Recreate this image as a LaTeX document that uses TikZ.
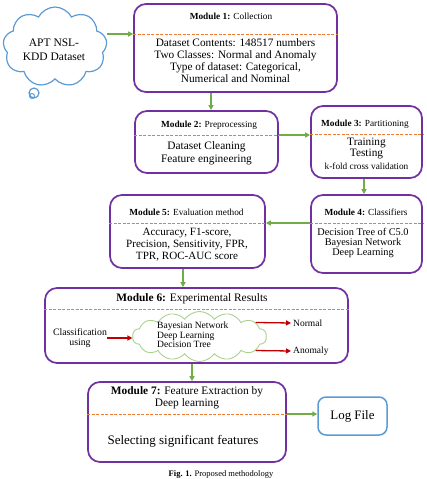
\documentclass[tikz,border=0pt]{standalone}
\usepackage{fontspec}
\setmainfont{Liberation Serif}
\usetikzlibrary{shapes.symbols,arrows.meta,calc}
\definecolor{purp}{HTML}{7030A0}
\definecolor{orng}{HTML}{ED7D31}
\definecolor{grn}{HTML}{70AD47}
\definecolor{blu}{HTML}{5B9BD5}
\definecolor{redd}{HTML}{C00000}
\definecolor{lgrn}{HTML}{A9D18E}
\tikzset{
  modbox/.style={draw=purp, line width=1.7pt, rounded corners=12pt, inner sep=0pt},
  sepline/.style={draw=orng, line width=0.9pt, dash pattern=on 3pt off 1.5pt},
  garrow/.style={draw=grn, line width=1.3pt, -{Triangle[length=5pt,width=5pt]}},
  rarrow/.style={draw=redd, line width=1.3pt, -{Triangle[length=5pt,width=5pt]}},
  ttl/.style={inner sep=0pt, font=\fontsize{9.3}{11}\selectfont},
  bodytxt/.style={inner sep=0pt, align=center},
  puff/.style={cloud, cloud ignores aspect, inner sep=0pt},
}
\begin{document}
\begin{tikzpicture}[x=1pt,y=-1pt]
\useasboundingbox (0,0) rectangle (426,479);

% cloud dataset
\node[puff, cloud puffs=9, cloud puff arc=125, draw=blu, line width=1.2pt, minimum width=104pt, minimum height=80pt] (cl) at (55,47) {};
\node[bodytxt, font=\fontsize{11.5}{14}\selectfont] (clt) at (54,50) {APT NSL-\\KDD Dataset};
\draw[blu, line width=1.2pt] (34,93) circle (5pt);
\draw[blu, line width=1pt] (32,96) circle (2.5pt);

% module boxes
\node[modbox, minimum width=203pt, minimum height=88pt] (m1) at (235.5,48) {};
\node[modbox, minimum width=143pt, minimum height=62pt] (m2) at (206.5,142) {};
\node[modbox, minimum width=111pt, minimum height=72pt] (m3) at (366.5,142) {};
\node[modbox, minimum width=111pt, minimum height=78pt] (m4) at (366.5,234) {};
\node[modbox, minimum width=155pt, minimum height=73pt] (m5) at (187.5,231.5) {};
\node[modbox, minimum width=303pt, minimum height=75pt] (m6) at (196.5,325.5) {};
\node[modbox, minimum width=198pt, minimum height=80pt] (m7) at (187,422) {};
\node[draw=blu, line width=1.5pt, rounded corners=8pt, minimum width=69pt, minimum height=38pt, inner sep=0pt,
      font=\fontsize{12.9}{14}\selectfont] (log) at (352.5,416) {Log File};

% separator coordinates
\coordinate (d1) at (0,34);
\coordinate (d2) at (0,135);
\coordinate (d3) at (0,134);
\coordinate (d4) at (0,223);
\coordinate (d6) at (0,309);
\coordinate (d7) at (0,414);
\draw[sepline] (m1.west |- d1) -- (m1.east |- d1);
\draw[sepline] (m2.west |- d2) -- (m2.east |- d2);
\draw[sepline] (m3.west |- d3) -- (m3.east |- d3);
\draw[sepline] (m4.west |- d4) -- (m4.east |- d4);
\draw[sepline] (m5.west |- d4) -- (m5.east |- d4);
\draw[sepline] (m6.west |- d6) -- (m6.east |- d6);
\draw[sepline] (m7.west |- d7) -- (m7.east |- d7);

% titles
\node[ttl] (t1) at (231,16) {\textbf{Module 1:} Collection};
\node[ttl] (t2) at (209,125) {\textbf{Module 2:} Preprocessing};
\node[ttl] (t3) at (365,124) {\textbf{Module 3:} Partitioning};
\node[ttl] (t4) at (366,212) {\textbf{Module 4:} Classifiers};
\node[ttl] (t5) at (186.5,212) {\textbf{Module 5:} Evaluation method};
\node[ttl, font=\fontsize{11.4}{13}\selectfont] (t6) at (192,299) {\textbf{Module 6:} Experimental Results};
\node[bodytxt, font=\fontsize{11.4}{12}\selectfont] (t7) at (187,398) {\textbf{Module 7:} Feature Extraction by\\Deep learning};

% bodies
\node[bodytxt, font=\fontsize{11.3}{12}\selectfont] (b1) at (235.5,61) {Dataset Contents: 148517 numbers\\Two Classes: Normal and Anomaly\\Type of dataset: Categorical,\\Numerical and Nominal};
\node[bodytxt, font=\fontsize{11.4}{13}\selectfont] (b2) at (206.5,153.5) {Dataset Cleaning\\Feature engineering};
\node[bodytxt, font=\fontsize{11.3}{11}\selectfont] (b3a) at (366.5,143) {Training};
\node[bodytxt, font=\fontsize{11.3}{11}\selectfont] (b3b) at (366.5,154) {Testing};
\node[bodytxt, font=\fontsize{9.3}{11}\selectfont] (b3c) at (366.5,166) {k-fold cross validation};
\node[bodytxt, font=\fontsize{10.3}{10}\selectfont] (b4) at (363,243) {Decision Tree of C5.0\\Bayesian Network\\Deep Learning};
\node[bodytxt, font=\fontsize{11.1}{12}\selectfont] (b5) at (187,245) {Accuracy, F1-score,\\Precision, Sensitivity, FPR,\\TPR, ROC-AUC score};
\node[bodytxt, font=\fontsize{13}{14}\selectfont] (b7) at (183,441) {Selecting significant features};

% module 6 content
\node[bodytxt, font=\fontsize{9.8}{10}\selectfont] (cu) at (80,338) {Classification\\using};
\node[puff, cloud puffs=14, cloud puff arc=110, draw=lgrn, line width=0.9pt, minimum width=134pt, minimum height=50pt] (cl2) at (199.5,336.5) {};
\node[inner sep=0pt, align=left, anchor=west, font=\fontsize{9.6}{9.3}\selectfont] (clt2) at (157,335) {Bayesian Network\\Deep Learning\\Decision Tree};
\node[inner sep=2pt, anchor=west, font=\fontsize{9.5}{11}\selectfont] (norm) at (291,323) {Normal};
\node[inner sep=2pt, anchor=west, font=\fontsize{9.5}{11}\selectfont] (anom) at (291,351) {Anomaly};
\draw[rarrow] (cu.east) -- (cu.east -| cl2.west);
\draw[rarrow] (cl2.14) -- (norm.west);
\draw[rarrow] (cl2.-14) -- (anom.west);

% connectors
\coordinate (v1) at (211,0);
\coordinate (v3) at (364,0);
\coordinate (v5) at (183,0);
\coordinate (v6) at (192,0);
\draw[garrow] (cl.east |- d1) -- (m1.west |- d1);
\draw[garrow] (m1.south -| v1) -- (m2.north -| v1);
\draw[garrow] (m2.east |- d2) -- (m3.west |- d2);
\draw[garrow] (m3.south -| v3) -- (m4.north -| v3);
\draw[garrow] (m4.west |- d4) -- (m5.east |- d4);
\draw[garrow] (m5.south -| v5) -- (m6.north -| v5);
\draw[garrow] (m6.south -| v6) -- (m7.north -| v6);
\draw[garrow] (m7.east |- d7) -- (log.west |- d7);

% caption
\node[inner sep=0pt, anchor=base, font=\fontsize{8.5}{10}\selectfont] (cap) at (221,476.5) {\textbf{Fig. 1.} Proposed methodology};
\end{tikzpicture}
\end{document}
